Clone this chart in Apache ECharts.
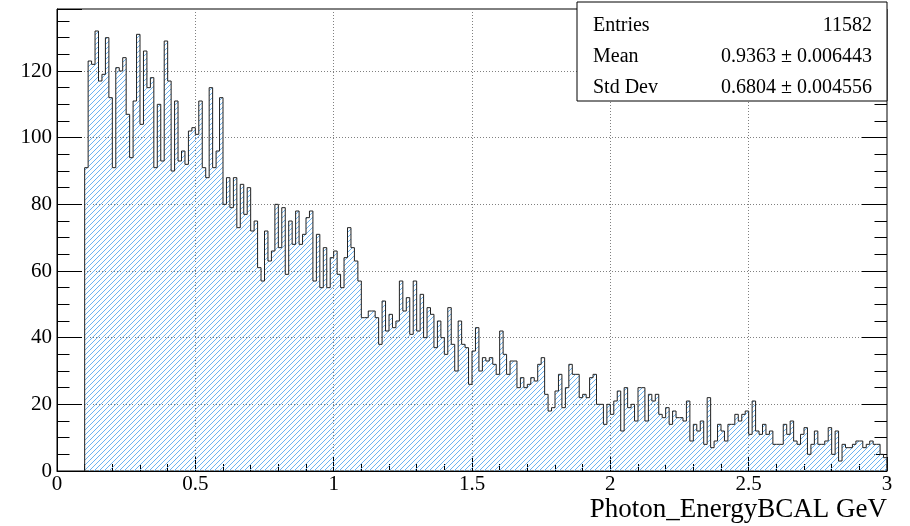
<!DOCTYPE html>
<html>
<head>
<meta charset="utf-8">
<script src="https://cdn.jsdelivr.net/npm/echarts@6/dist/echarts.min.js"></script>
<style>
  html, body { margin: 0; padding: 0; background: #fff; }
  #chart { width: 910px; height: 526px; }
</style>
</head>
<body>
<div id="chart"></div>
<script>
// bin contents, 0.0125 GeV wide bins starting at 0.1
const binsA = [91, 123, 122, 132, 117, 119, 130, 112, 91, 121, 120, 124, 107, 94, 111, 131, 104, 126, 115, 118,
  91, 110, 93, 129, 117, 90, 111, 93, 96, 92, 102, 103, 101, 111, 91, 88, 115, 91, 96, 112];
const binsB = [80, 88, 79, 88, 73, 86, 77, 85, 72, 75, 61, 57, 72, 63, 66, 80, 67, 79, 59, 75,
  68, 78, 68, 71, 76, 78, 57, 71, 55, 67, 55, 64, 66, 59, 55, 64, 73, 67, 63, 57];
const binsC = [46, 46, 48, 48, 46, 38, 51, 42, 47, 43, 45, 57, 48, 52, 41, 57, 42, 53, 40, 49,
  47, 37, 45, 40, 35, 49, 38, 30, 45, 38, 37, 26, 36, 43, 30, 34, 33, 34, 32, 29];
const binsD = [42, 35, 29, 33, 33, 25, 28, 25, 26, 28, 27, 32, 34, 23, 18, 19, 24, 29, 19, 25,
  32, 29, 29, 22, 23, 22, 28, 29, 20, 20, 14, 20, 17, 21, 24, 12, 25, 19, 20, 15];
const binsE = [25, 25, 15, 23, 21, 23, 17, 16, 19, 14, 18, 16, 16, 15, 21, 9, 14, 12, 15, 8,
  22, 7, 9, 14, 12, 9, 14, 14, 17, 15, 17, 18, 11, 21, 12, 11, 14, 11, 12, 8];
const binsF = [8, 8, 14, 11, 15, 9, 8, 11, 13, 5, 8, 12, 8, 8, 9, 13, 5, 12, 3, 8,
  7, 7, 8, 9, 9, 7, 8, 9, 8, 8, 5, 4];

const binLow = 0.1;
const binWidth = 0.0125;
const yMax = 138.6;

const statNames = ['Entries', 'Mean', 'Std Dev'];
const statValues = ['11582', '0.9363 \u00b1 0.006443', '0.6804 \u00b1 0.004556'];

const FONT = '"Liberation Serif", "DejaVu Serif", serif';

// crisp one-pixel "/" hatch, like ROOT fill style 3004
function hatchPattern(size, color) {
  const c = document.createElement('canvas');
  c.width = size;
  c.height = size;
  const g = c.getContext('2d');
  g.fillStyle = color;
  for (let i = 0; i < size; i++) {
    g.fillRect(i, size - 1 - i, 1, 1);
  }
  return c;
}

const counts = [].concat(binsA, binsB, binsC, binsD, binsE, binsF);
const binHigh = binLow + counts.length * binWidth;
const histPoints = [[binLow, 0]];
counts.forEach((c, i) => histPoints.push([binLow + i * binWidth, c]));
histPoints.push([binHigh, counts[counts.length - 1]]);
histPoints.push([binHigh, 0]);

const tickLine = { color: '#000', width: 1 };
const gridLine = { show: true, lineStyle: { color: '#808080', width: 1, type: [1, 2] } };

function xAx(pos, step, len, extra) {
  return Object.assign({
    type: 'value', min: 0, max: 3, interval: step, position: pos,
    axisLine: { show: false },
    axisTick: { show: true, inside: true, length: len, lineStyle: tickLine },
    axisLabel: { show: false },
    splitLine: { show: false }
  }, extra || {});
}

function yAx(pos, step, len, extra) {
  return Object.assign({
    type: 'value', min: 0, max: yMax, interval: step, position: pos,
    axisLine: { show: false },
    axisTick: { show: true, inside: true, length: len, lineStyle: tickLine },
    axisLabel: { show: false },
    splitLine: { show: false }
  }, extra || {});
}

const chart = echarts.init(document.getElementById('chart'));

const statGraphics = [{
  type: 'rect', z: 100,
  shape: { x: 577, y: 2, width: 310, height: 99 },
  style: { fill: '#fff', stroke: '#000', lineWidth: 1 }
}];
statNames.forEach((name, i) => {
  statGraphics.push({
    type: 'text', z: 101, x: 593, y: 26 + i * 31,
    style: { text: name, font: '20px ' + FONT, fill: '#000', align: 'left', verticalAlign: 'middle' }
  });
  statGraphics.push({
    type: 'text', z: 101, x: 872, y: 26 + i * 31,
    style: { text: statValues[i], font: '20px ' + FONT, fill: '#000', align: 'right', verticalAlign: 'middle' }
  });
});

chart.setOption({
  animation: false,
  backgroundColor: '#fff',
  title: {
    text: 'Photon_EnergyBCAL GeV',
    right: 23, top: 496, padding: 0,
    textStyle: { fontFamily: FONT, fontSize: 27, fontWeight: 'normal', color: '#000' }
  },
  grid: {
    left: 57, top: 9, width: 830, height: 462,
    show: true, borderColor: '#000', borderWidth: 1,
    outerBoundsMode: 'none'
  },
  xAxis: [
    xAx('bottom', 0.5, 14, {
      axisLine: { show: true, lineStyle: tickLine },
      axisLabel: { show: true, margin: 3, fontFamily: FONT, fontSize: 21, color: '#000' },
      splitLine: gridLine
    }),
    xAx('bottom', 0.1, 7)
  ],
  yAxis: [
    yAx('left', 20, 25, {
      axisLine: { show: true, lineStyle: tickLine },
      axisLabel: {
        show: true, margin: 5, fontFamily: FONT, fontSize: 21, color: '#000',
        formatter: v => (Math.abs(v % 20) < 1e-6 ? String(v) : '')
      },
      splitLine: gridLine
    }),
    yAx('left', 5, 12.5),
    yAx('right', 20, 25),
    yAx('right', 5, 12.5)
  ],
  series: [{
    type: 'line',
    xAxisIndex: 0, yAxisIndex: 0,
    step: 'end',
    symbol: 'none',
    data: histPoints,
    lineStyle: { color: '#222', width: 1 },
    areaStyle: { color: { image: hatchPattern(5, '#6cb4f2'), repeat: 'repeat' }, opacity: 1 },
    z: 2
  }],
  graphic: statGraphics
});
</script>
</body>
</html>
